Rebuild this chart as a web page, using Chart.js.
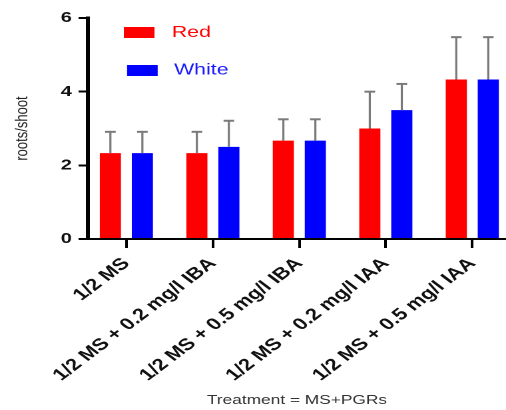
<!DOCTYPE html>
<html>
<head>
<meta charset="utf-8">
<script src="https://cdn.jsdelivr.net/npm/chart.js@4/dist/chart.umd.min.js"></script>
<style>
  html, body { margin: 0; padding: 0; background: #fff; overflow: hidden; }
  /* the reference picture is stretched sideways, so draw narrow and widen it */
  #wrap { width: 380px; height: 410px; transform: scaleX(1.3316); transform-origin: 0 0; }
</style>
</head>
<body>
<div id="wrap"><canvas id="chart" width="380" height="410"></canvas></div>
<script>
const categories = ['1/2 MS', '1/2 MS + 0.2 mg/l IBA', '1/2 MS + 0.5 mg/l IBA', '1/2 MS + 0.2 mg/l IAA', '1/2 MS + 0.5 mg/l IAA'];
const redMeans = [2.33, 2.33, 2.67, 3.0, 4.33];
const redSD = [0.58, 0.58, 0.58, 1.0, 1.15];
const whiteMeans = [2.33, 2.5, 2.67, 3.5, 4.33];
const whiteSD = [0.58, 0.71, 0.58, 0.71, 1.15];
const yTicks = [0, 2, 4, 6];

const FONT = 'Arial, "Liberation Sans", sans-serif';

// error bars, upward only, with a cap
const errorBars = {
    id: 'errorBars',
    afterDatasetsDraw(chart) {
        const { ctx } = chart;
        const yScale = chart.scales.y;
        chart.data.datasets.forEach((ds, di) => {
            const meta = chart.getDatasetMeta(di);
            meta.data.forEach((bar, i) => {
                const top = yScale.getPixelForValue(ds.data[i].y + ds.sd[i]);
                ctx.save();
                ctx.strokeStyle = '#7a7a7a';
                ctx.lineWidth = 1.6;
                ctx.beginPath();
                ctx.moveTo(bar.x, bar.y);
                ctx.lineTo(bar.x, top);
                ctx.stroke();
                ctx.lineWidth = 2;
                ctx.beginPath();
                ctx.moveTo(bar.x - 4, top);
                ctx.lineTo(bar.x + 4, top);
                ctx.stroke();
                ctx.restore();
            });
        });
    }
};

// legend inside the plot, top left
const insideLegend = {
    id: 'insideLegend',
    afterDraw(chart) {
        const { ctx, chartArea } = chart;
        const items = [
            { ds: chart.data.datasets[0], bx: 27, by: 9, tx: 63, ty: 14.5 },
            { ds: chart.data.datasets[1], bx: 29.4, by: 47, tx: 64.7, ty: 52 }
        ];
        ctx.save();
        ctx.font = '16px ' + FONT;
        ctx.textBaseline = 'middle';
        items.forEach(it => {
            ctx.fillStyle = it.ds.backgroundColor;
            ctx.fillRect(chartArea.left + it.bx, chartArea.top + it.by, 23, 11);
            ctx.fillStyle = it.ds.textColor;
            ctx.fillText(it.ds.label, chartArea.left + it.tx, chartArea.top + it.ty);
        });
        ctx.restore();
    }
};

new Chart(document.getElementById('chart'), {
    type: 'bar',
    data: {
        datasets: [
            {
                label: 'Red',
                data: redMeans.map((y, i) => ({ x: i, y })),
                sd: redSD,
                backgroundColor: '#ff0000',
                textColor: '#ff0000'
            },
            {
                label: 'White',
                data: whiteMeans.map((y, i) => ({ x: i, y })),
                sd: whiteSD,
                backgroundColor: '#0000ff',
                textColor: '#1a1aff'
            }
        ]
    },
    options: {
        responsive: false,
        animation: false,
        devicePixelRatio: 2,
        categoryPercentage: 0.74,
        barPercentage: 0.66,
        layout: { padding: { top: 18, left: 0, right: 0, bottom: 0 } },
        plugins: {
            legend: { display: false },
            tooltip: { enabled: false }
        },
        scales: {
            x: {
                type: 'linear',
                min: -0.445,
                max: 4.39,
                offset: false,
                grid: { offset: false, drawOnChartArea: false, drawTicks: true, tickLength: 9, color: '#000', lineWidth: 2 },
                border: { color: '#000', width: 2 },
                ticks: {
                    stepSize: 1,
                    includeBounds: false,
                    autoSkip: false,
                    minRotation: 45,
                    maxRotation: 45,
                    padding: 6,
                    color: '#111',
                    font: { family: FONT, size: 16.5, weight: 'bold' },
                    callback: v => categories[v] ?? ''
                },
                title: {
                    display: true,
                    text: 'Treatment = MS+PGRs',
                    color: '#333',
                    font: { family: FONT, size: 13 },
                    padding: { top: 0, bottom: 2 }
                },
                afterFit: s => { s.height = 171; }
            },
            y: {
                min: 0,
                max: 6,
                afterBuildTicks: s => { s.ticks = yTicks.map(v => ({ value: v })); },
                grid: { drawOnChartArea: false, drawTicks: true, tickLength: 7, color: '#000', lineWidth: 2 },
                border: { color: '#000', width: 3 },
                ticks: {
                    padding: 5,
                    color: '#111',
                    font: { family: FONT, size: 15, weight: 'bold' }
                },
                title: {
                    display: true,
                    text: 'roots/shoot',
                    color: '#222',
                    font: { family: FONT, size: 13 },
                    padding: { top: 9, bottom: 0 }
                },
                afterFit: s => { s.width = 66; }
            }
        }
    },
    plugins: [errorBars, insideLegend]
});
</script>
</body>
</html>
